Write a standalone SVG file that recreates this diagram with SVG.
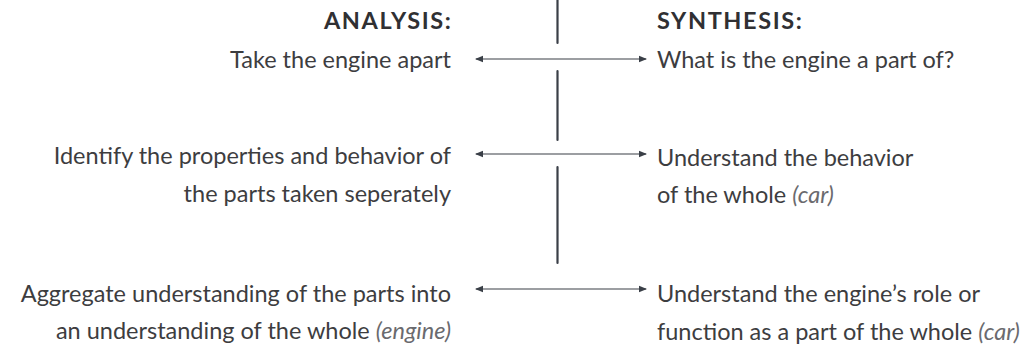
<svg xmlns="http://www.w3.org/2000/svg" width="1028" height="348" viewBox="0 0 1028 348">
<defs>
<style>
.t{font-family:Lato,"Liberation Sans",sans-serif;font-size:23.5px;fill:#3d3d3f;}
.h{font-weight:700;fill:#303033;font-size:23.5px;letter-spacing:1.6px;}
.l{text-anchor:end;}
.i{font-style:italic;fill:#6a6a6e;}
.ln{stroke:#3a3f47;fill:none;}
.v{stroke-width:2.2;stroke-linecap:round;}
.a{stroke-width:1.2;}
</style>
<marker id="ae" viewBox="0 0 8 8" refX="7" refY="4" markerWidth="8" markerHeight="8" markerUnits="userSpaceOnUse" orient="auto-start-reverse">
<path d="M0,0.8 L8,4 L0,7.2 Z" fill="#3a3f47"/>
</marker>
</defs>
<rect width="1028" height="348" fill="#ffffff"/>
<g id="connectors">
<line class="ln v" x1="557.5" y1="-2" x2="557.5" y2="43"/>
<line class="ln v" x1="557.5" y1="71" x2="557.5" y2="140"/>
<line class="ln v" x1="557.5" y1="167" x2="557.5" y2="263"/>
<line class="ln a" x1="476" y1="59" x2="646" y2="59" marker-start="url(#ae)" marker-end="url(#ae)"/>
<line class="ln a" x1="476" y1="154" x2="646" y2="154" marker-start="url(#ae)" marker-end="url(#ae)"/>
<line class="ln a" x1="476" y1="289" x2="646" y2="289" marker-start="url(#ae)" marker-end="url(#ae)"/>
</g>
<g id="analysis-header"><text class="t h l" x="452.5" y="29">ANALYSIS:</text></g>
<g id="synthesis-header"><text class="t h" x="657" y="29">SYNTHESIS:</text></g>
<g id="analysis-1"><text class="t l" x="451" y="68">Take the engine apart</text></g>
<g id="synthesis-1"><text class="t" x="657" y="68">What is the engine a part of?</text></g>
<g id="analysis-2">
<text class="t l" x="451" y="164">Identify the properties and behavior of</text>
<text class="t l" x="451" y="202">the parts taken seperately</text>
</g>
<g id="synthesis-2">
<text class="t" x="657" y="166">Understand the behavior</text>
<text class="t" x="657" y="203">of the whole <tspan class="i">(car)</tspan></text>
</g>
<g id="analysis-3">
<text class="t l" x="451" y="302">Aggregate understanding of the parts into</text>
<text class="t l" x="451" y="339">an understanding of the whole <tspan class="i">(engine)</tspan></text>
</g>
<g id="synthesis-3">
<text class="t" x="657" y="302">Understand the engine’s role or</text>
<text class="t" x="657" y="340">function as a part of the whole <tspan class="i">(car)</tspan></text>
</g>
</svg>
